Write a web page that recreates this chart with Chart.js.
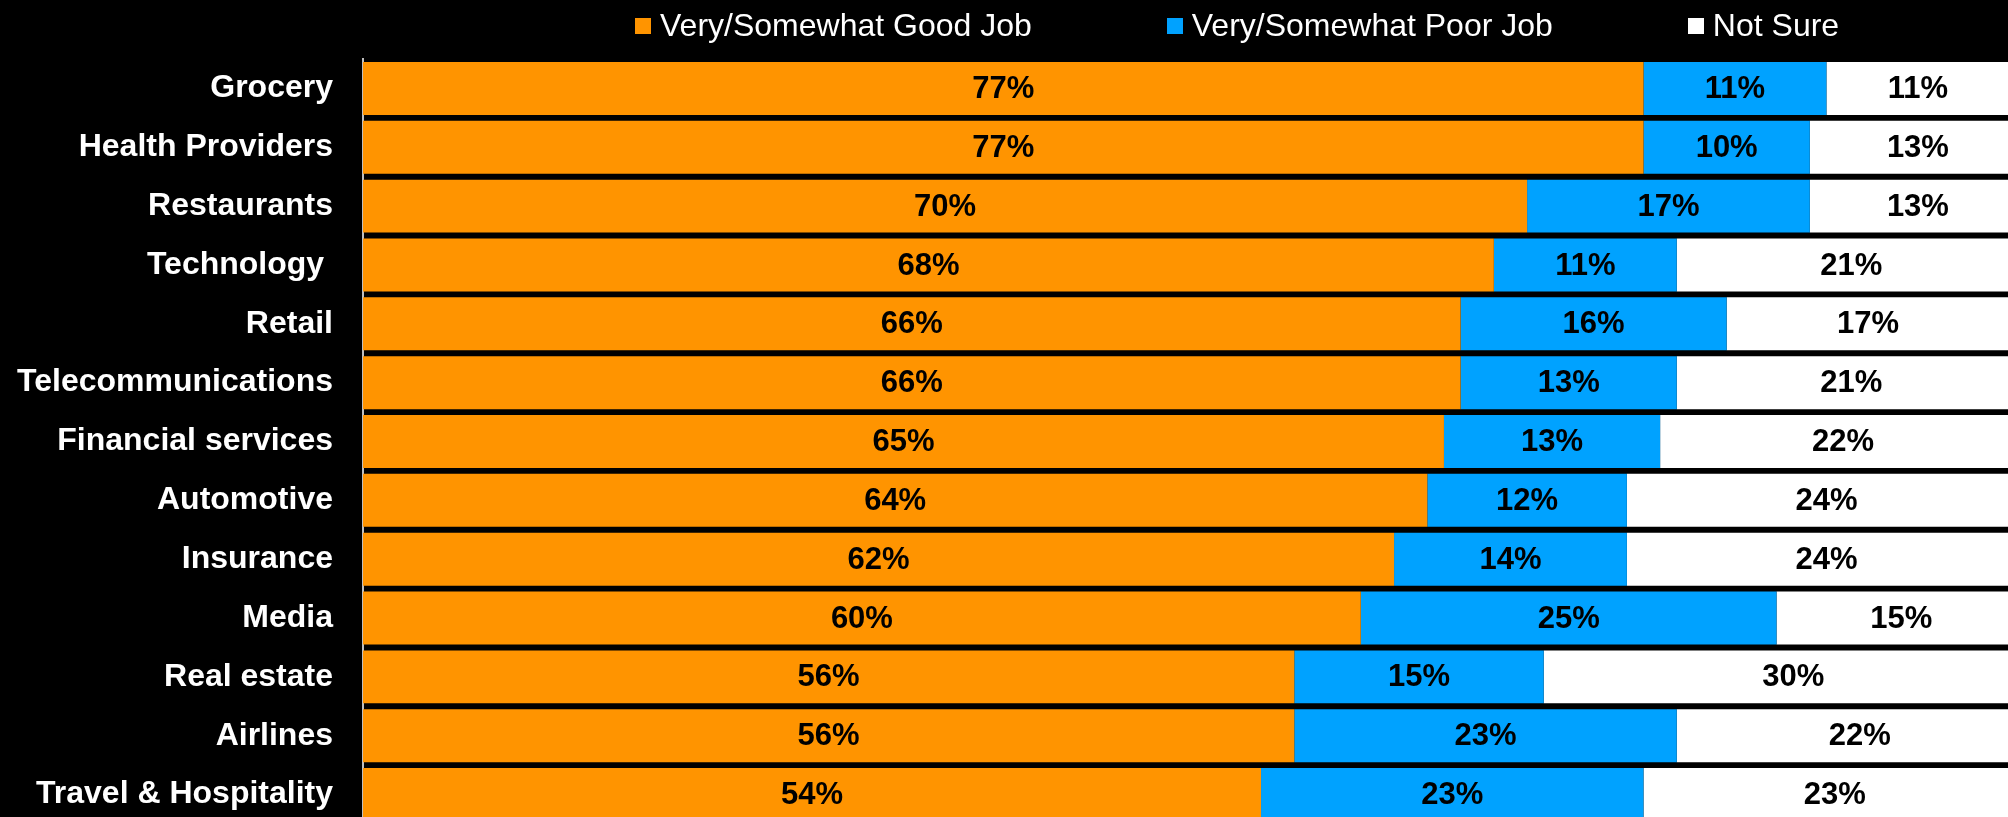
<!DOCTYPE html>
<html>
<head>
<meta charset="utf-8">
<script src="https://cdn.jsdelivr.net/npm/chart.js@4.4.1/dist/chart.umd.min.js"></script>
<style>
  html, body {
    margin: 0;
    padding: 0;
    background: #000;
    width: 2008px;
    height: 817px;
    overflow: hidden;
  }
  #jobChart {
    position: absolute;
    left: 0;
    top: 0;
  }
  #legend {
    position: absolute;
    left: 635px;
    top: 9px;
    display: flex;
    gap: 135px;
    font: 32px "Liberation Sans", Arial, sans-serif;
    line-height: 32px;
    color: #fff;
    z-index: 2;
  }
  #legend .item {
    display: flex;
    align-items: center;
    white-space: nowrap;
  }
  #legend .swatch {
    width: 16px;
    height: 16px;
    margin-right: 9px;
    margin-top: 2px;
  }
</style>
</head>
<body>
<div id="legend"></div>
<canvas id="jobChart" width="2026" height="824"></canvas>
<script>
// 🔹 Sectors and answer shares (%)
const sectors = [
  "Grocery",
  "Health Providers",
  "Restaurants",
  "Technology ",
  "Retail",
  "Telecommunications",
  "Financial services",
  "Automotive",
  "Insurance",
  "Media",
  "Real estate",
  "Airlines",
  "Travel & Hospitality",
];
const goodJob = [77, 77, 70, 68, 66, 66, 65, 64, 62, 60, 56, 56, 54];
const poorJob = [11, 10, 17, 11, 16, 13, 13, 12, 14, 25, 15, 23, 23];
const notSure = [11, 13, 13, 21, 17, 21, 22, 24, 24, 15, 30, 22, 23];

const seriesNames = ["Very/Somewhat Good Job", "Very/Somewhat Poor Job", "Not Sure"];
const seriesColors = ["#FF9400", "#00A2FF", "#FFFFFF"];

const FONT = '"Liberation Sans", Arial, sans-serif';

// 🔹 Percentage label in the middle of each segment
const segmentLabels = {
  id: "segmentLabels",
  afterDatasetsDraw(chart) {
    const ctx = chart.ctx;
    ctx.save();
    ctx.font = "bold 31px " + FONT;
    ctx.fillStyle = "#000";
    ctx.textAlign = "center";
    ctx.textBaseline = "middle";
    chart.data.datasets.forEach((ds, i) => {
      chart.getDatasetMeta(i).data.forEach((bar, j) => {
        const { x, y, base } = bar.getProps(["x", "y", "base"], true);
        ctx.fillText(ds.data[j] + "%", (x + base) / 2, y + 1);
      });
    });
    ctx.restore();
  },
};

const ctx = document.getElementById("jobChart").getContext("2d");

const jobChart = new Chart(ctx, {
  type: "bar",
  data: {
    labels: sectors,
    datasets: [goodJob, poorJob, notSure].map((values, i) => ({
      label: seriesNames[i],
      data: values,
      backgroundColor: seriesColors[i],
      borderWidth: 0,
      categoryPercentage: 1.0,
      barPercentage: 0.9,
    })),
  },
  options: {
    indexAxis: "y",
    responsive: false,
    animation: false,
    layout: {
      padding: { top: 59, left: 0, right: 0, bottom: 0 },
    },
    plugins: {
      legend: { display: false },
      tooltip: { enabled: false },
    },
    scales: {
      x: {
        stacked: true,
        min: 0,
        max: 100,
        display: false,
      },
      y: {
        stacked: true,
        grid: { display: false, drawTicks: false },
        border: { display: true, color: "#BFBFBF", width: 2 },
        ticks: {
          color: "#FFFFFF",
          padding: 30,
          font: { family: FONT, size: 32, weight: "bold" },
        },
        afterFit(scale) {
          // fixed label column, no extra space above/below the bars
          scale.width = 363;
          scale.paddingTop = 0;
          scale.paddingBottom = 0;
        },
      },
    },
  },
  plugins: [segmentLabels],
});

// 🔹 Legend built from the datasets
const legendEl = document.getElementById("legend");
jobChart.data.datasets.forEach((ds) => {
  const item = document.createElement("div");
  item.className = "item";
  const swatch = document.createElement("span");
  swatch.className = "swatch";
  swatch.style.background = ds.backgroundColor;
  const text = document.createElement("span");
  text.textContent = ds.label;
  item.appendChild(swatch);
  item.appendChild(text);
  legendEl.appendChild(item);
});
</script>
</body>
</html>
